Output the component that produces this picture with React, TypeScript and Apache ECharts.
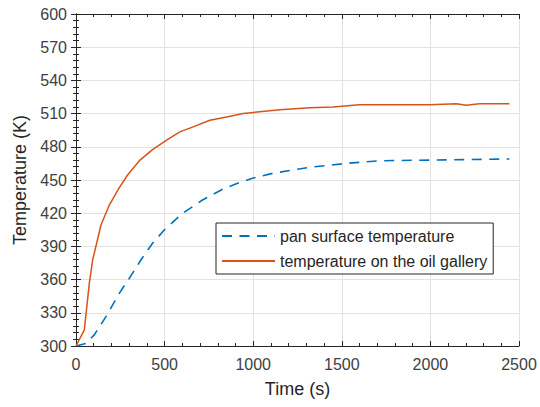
import React, { useEffect, useRef } from "react";
import * as echarts from "echarts";

const oilTime = [0, 47, 75, 94, 141, 188, 240, 291, 361, 432, 511, 586, 661, 755, 850, 943, 1037, 1150, 1319, 1450, 1600, 1995, 2146, 2202, 2277, 2446];
const oilTemp = [300, 314.5, 356.6, 377.7, 409.3, 427.4, 442, 454.5, 468, 477.5, 486, 493.5, 498, 504, 507, 510, 511.7, 513.5, 515.3, 516, 518, 518, 519, 517.5, 519, 519];

const panTime = [0, 56, 103, 169, 244, 301, 366, 432, 498, 601, 714, 827, 921, 996, 1109, 1319, 1526, 1714, 1995, 2446];
const panTemp = [300, 302.4, 310, 326.5, 347.6, 361.2, 377.7, 392.8, 404.8, 419.9, 431.9, 441.6, 447.6, 451.5, 456, 461.5, 465, 467.4, 468, 469];

const seriesNames = ["pan surface temperature", "temperature on the oil gallery"];
const xLabel = "Time (s)";
const yLabel = "Temperature (K)";

const FONT = "'Liberation Sans', Arial, Helvetica, sans-serif";
const AX = "#262626";

export default function App() {
  const ref = useRef<HTMLDivElement>(null);
  useEffect(() => {
    if (!ref.current) return;
    const chart = echarts.init(ref.current, null, { renderer: "svg" });
    const tickCommon = {
      axisLine: { show: true, lineStyle: { color: AX, width: 1 } },
      axisTick: { show: true, inside: true, length: 5, lineStyle: { color: AX } },
      minorTick: { show: true, splitNumber: 5, length: 3, lineStyle: { color: AX } },
    };
    chart.setOption({
      animation: false,
      backgroundColor: "#ffffff",
      textStyle: { fontFamily: FONT },
      grid: { left: 76, right: 21, top: 14, bottom: 61, containLabel: false },
      legend: {
        orient: "vertical",
        left: 216,
        top: 223,
        padding: [5, 6, 5, 5],
        itemWidth: 53,
        itemHeight: 14,
        itemGap: 9,
        backgroundColor: "#ffffff",
        borderColor: AX,
        borderWidth: 1,
        borderRadius: 0,
        itemStyle: { opacity: 0 },
        textStyle: { fontSize: 16, color: AX, fontFamily: FONT },
        data: seriesNames,
      },
      xAxis: [
        {
          type: "value",
          min: 0,
          max: 2500,
          interval: 500,
          position: "bottom",
          name: xLabel,
          nameLocation: "middle",
          nameGap: 34,
          nameTextStyle: { fontSize: 18, color: AX, fontFamily: FONT },
          axisLabel: { fontSize: 16, color: "#404040", margin: 10, fontFamily: FONT, formatter: (v: number) => String(v) },
          splitLine: { show: true, lineStyle: { color: "#e2e2e2", width: 1 } },
          ...tickCommon,
        },
        {
          type: "value",
          min: 0,
          max: 2500,
          interval: 500,
          position: "top",
          axisLabel: { show: false },
          splitLine: { show: false },
          ...tickCommon,
        },
      ],
      yAxis: [
        {
          type: "value",
          min: 300,
          max: 600,
          interval: 30,
          position: "left",
          name: yLabel,
          nameLocation: "middle",
          nameGap: 44,
          nameTextStyle: { fontSize: 18, color: AX, fontFamily: FONT },
          axisLabel: { fontSize: 16, color: "#404040", margin: 9, fontFamily: FONT, formatter: (v: number) => String(v) },
          splitLine: { show: true, lineStyle: { color: "#e2e2e2", width: 1 } },
          ...tickCommon,
        },
        {
          type: "value",
          min: 300,
          max: 600,
          interval: 30,
          position: "right",
          axisLabel: { show: false },
          splitLine: { show: false },
          ...tickCommon,
        },
      ],
      series: [
        {
          name: seriesNames[0],
          type: "line",
          xAxisIndex: 0,
          yAxisIndex: 0,
          symbol: "none",
          showSymbol: false,
          data: panTime.map((t, i) => [t, panTemp[i]]),
          lineStyle: { color: "#0072BD", width: 1.6, type: [10, 7.5] },
          itemStyle: { color: "#0072BD" },
          z: 3,
        },
        {
          name: seriesNames[1],
          type: "line",
          xAxisIndex: 0,
          yAxisIndex: 0,
          symbol: "none",
          showSymbol: false,
          data: oilTime.map((t, i) => [t, oilTemp[i]]),
          lineStyle: { color: "#D95319", width: 1.5 },
          itemStyle: { color: "#D95319" },
          z: 3,
        },
      ],
    });
    return () => chart.dispose();
  }, []);
  return <div ref={ref} style={{ width: 540, height: 407, position: "fixed", left: 0, top: 0 }} />;
}
